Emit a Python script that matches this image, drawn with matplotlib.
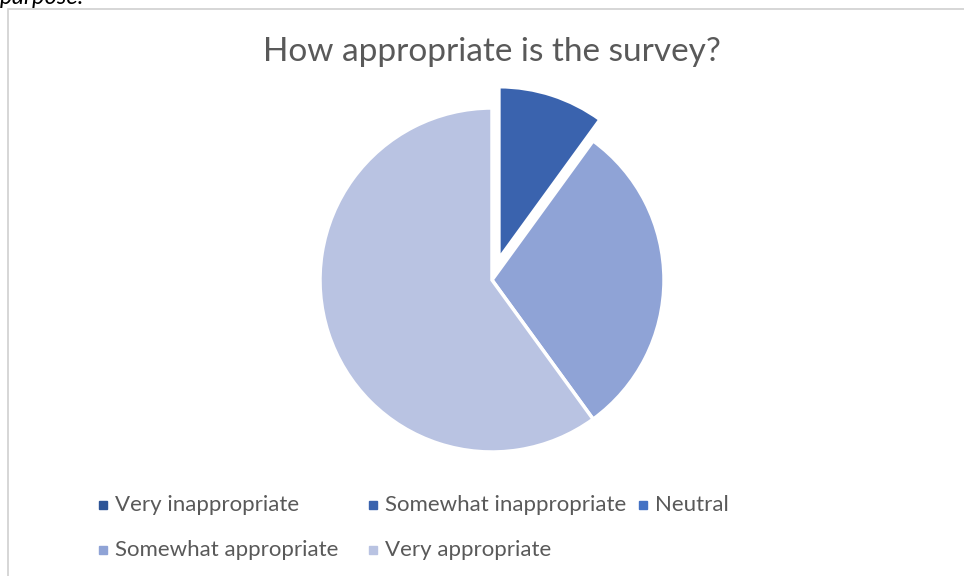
import matplotlib
matplotlib.use("Agg")
import matplotlib.pyplot as plt
from matplotlib.patches import Rectangle
from matplotlib.lines import Line2D

categories = ["Very inappropriate", "Somewhat inappropriate", "Neutral",
              "Somewhat appropriate", "Very appropriate"]
values = [0, 1, 0, 3, 6]
colors = ["#2E5597", "#3A63AE", "#4472C4", "#8FA3D6", "#B9C3E2"]
explode = [0, 0.13, 0, 0, 0]
title = "How appropriate is the survey?"

plt.rcParams['font.family'] = ['Lato', 'DejaVu Sans']

W, H = 964, 576
fig = plt.figure(figsize=(W / 100, H / 100), dpi=100)
fig.patch.set_facecolor("white")

# chart border
fig.patches.append(Rectangle((8 / W, -0.02), 1.2, 1 - 9 / H + 0.02,
                             transform=fig.transFigure, fill=False,
                             edgecolor="#D0D0D0", linewidth=1.2))
# cut-off text above the chart (as in the reference)
fig.text(0.0, 1.0 + 3 / H, "purpose:", style="italic", fontsize=17,
         ha="left", va="center", color="black")

r = 172
cx, cy = 492, 280
ax = fig.add_axes([(cx - r) / W, 1 - (cy + r) / H, 2 * r / W, 2 * r / H])
ax.pie(values, colors=colors, explode=explode, startangle=90,
       counterclock=False, radius=1.0,
       wedgeprops=dict(edgecolor="white", linewidth=2.5))
ax.set_xlim(-1, 1)
ax.set_ylim(-1, 1)
ax.set_aspect("auto")
ax.axis("off")

fig.text(492 / W, 1 - 52 / H, title, ha="center", va="center",
         fontsize=24, color="#595959")

# legend laid out in rows like the reference
slots = [(103, 505), (373, 505), (643, 505), (103, 550), (373, 550)]
for (x, y), lab, c in zip(slots, categories, colors):
    fig.add_artist(Line2D([x / W], [1 - y / H], transform=fig.transFigure,
                          marker="s", linestyle="none", markersize=6,
                          markerfacecolor=c, markeredgecolor=c))
    fig.text((x + 12) / W, 1 - y / H, lab, ha="left", va="center",
             fontsize=16, color="#595959")

fig.savefig("out.png", dpi=100)
